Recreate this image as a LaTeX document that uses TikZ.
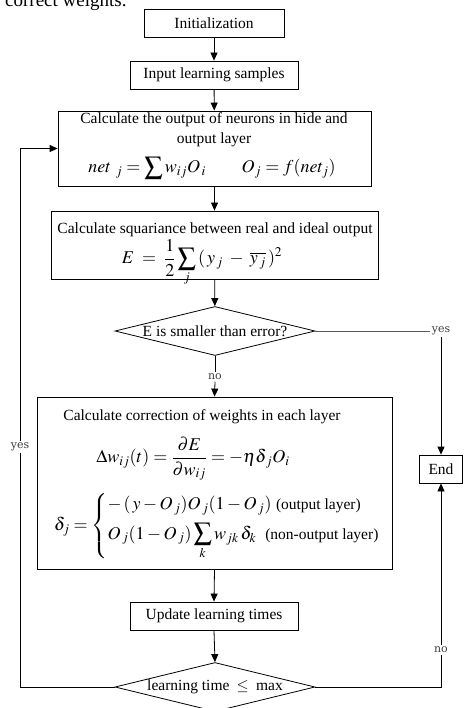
\documentclass[tikz,border=0pt]{standalone}
\usepackage{amsmath}
\usepackage{mathptmx}
\usepackage{fontspec}
\setmainfont{Liberation Serif}
\newfontfamily\labfont{DejaVu Serif}
\usetikzlibrary{shapes.geometric,arrows.meta}
\newcommand{\smtxt}[1]{\text{\fontsize{15.5}{18}\selectfont #1}}
\tikzset{
  box/.style={draw=black,line width=0.8pt,inner sep=0pt},
  dec/.style={draw=black,line width=0.8pt,diamond,inner sep=0pt,minimum width=200pt,minimum height=49pt},
  txt/.style={inner sep=0pt,font=\fontsize{15.5}{18}\selectfont},
  mth/.style={inner sep=0pt,font=\fontsize{18}{21}\selectfont},
  lab/.style={inner sep=1.5pt,font=\labfont\fontsize{11}{13}\selectfont,text=black!75},
  arr/.style={line width=0.8pt,-{Triangle[length=8pt,width=7pt]}},
  ln/.style={line width=0.8pt}
}
\begin{document}
\begin{tikzpicture}[x=1pt,y=-1pt]
\useasboundingbox (0,0) rectangle (463,708);
% cut-off caption fragment
\node[anchor=base west,inner sep=0pt,font=\fontsize{19}{22}\selectfont] (cap) at (5,7) {correct weights.};
% boxes
\node[box,txt,minimum width=140pt,minimum height=28pt] (init) at (214,23) {Initialization};
\node[box,txt,minimum width=168pt,minimum height=28pt] (input) at (214,75) {Input learning samples};
\node[box,minimum width=313pt,minimum height=75pt] (calc) at (214.5,148.5) {};
\node[txt] (calc1) at (214,120) {Calculate the output of neurons in hide and};
\node[txt] (calc2) at (214,140) {output layer};
\node[mth] (calc3) at (212,168) {$net_{\;\;j} = \displaystyle\sum w_{ij}O_{\,i}\qquad O_j = f(net_j)$};
\node[box,minimum width=327pt,minimum height=68pt] (sq) at (214.5,245) {};
\node[txt] (sq1) at (215,230) {Calculate squariance between real and ideal output};
\node[mth] (sq2) at (202,263) {$E \;=\; \dfrac{1}{2}\displaystyle\sum_j\,(\,y_{\,j}\;-\;\overline{y_{\,j}}\,)^2$};
\node[dec] (d1) at (215,331) {};
\node[txt] (d1t) at (d1) {E is smaller than error?};
\node[box,minimum width=355pt,minimum height=172pt] (corr) at (214.5,483) {};
\node[txt] (corr1) at (202,417) {Calculate correction of weights in each layer};
\node[mth] (corr2) at (193,459) {$\displaystyle \Delta w_{ij}(t)=\frac{\partial E}{\partial w_{ij}}=-\eta\delta_{\,j}O_i$};
\node[mth,anchor=west] (corr3) at (54,526) {$\delta_j=\begin{cases}-\,(\,y-O_{\,j})O_{\,j}(1-O_{\,j})\ \smtxt{(output layer)}\\[4pt] O_{\,j}(1-O_{\,j})\displaystyle\sum_k w_{jk}\,\delta_k\ \ \smtxt{(non-output layer)}\end{cases}$};
\node[box,txt,minimum width=168pt,minimum height=28pt] (upd) at (214,616) {Update learning times};
\node[dec] (d2) at (215,687) {};
\node[txt] (d2t) at (d2) {learning time $\;\leq\;$ max};
\node[box,txt,minimum width=43pt,minimum height=28pt] (end) at (441,469) {End};
% labels
\node[lab] (no1) at (215,377) {no};
\node[lab] (yes1) at (441,331) {yes};
\node[lab] (yes2) at (20,447) {yes};
\node[lab] (no2) at (441,650) {no};
\coordinate (lc1) at (20,687);
\coordinate (lc2) at (20,148.5);
\coordinate (rc1) at (441,687);
% connectors
\draw[arr] (init) -- (input);
\draw[arr] (input) -- (calc);
\draw[arr] (calc) -- (sq);
\draw[arr] (sq) -- (d1);
\draw[ln] (d1.south) -- (no1.north);
\draw[arr] (no1.south) -- (corr.north);
\draw[ln,draw=black!65] (d1.east) -- (yes1.west);
\draw[arr] (yes1.south) -- (end.north);
\draw[arr] (corr.south) -- (upd.north);
\draw[arr] (upd.south) -- (d2.north);
\draw[ln] (d2.west) -- (lc1) -- (yes2.south);
\draw[arr] (yes2.north) -- (lc2) -- (calc.west);
\draw[ln] (d2.east) -- (rc1) -- (no2.south);
\draw[arr] (no2.north) -- (end.south);
\end{tikzpicture}
\end{document}
